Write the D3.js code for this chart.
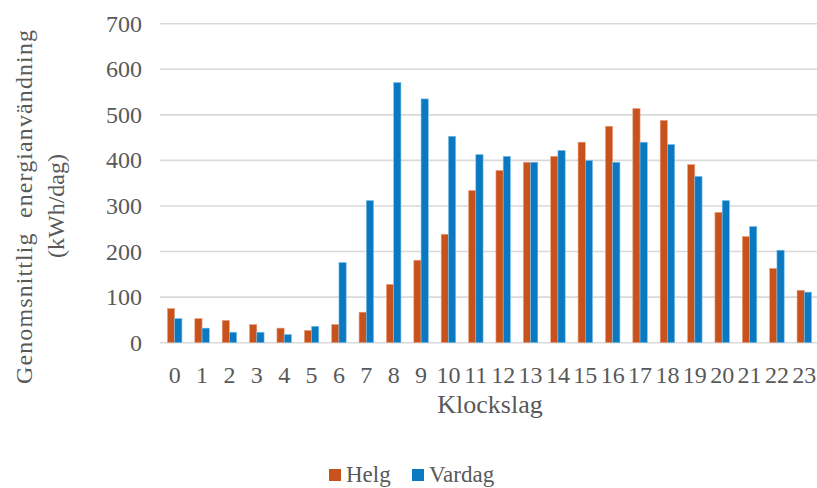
<!DOCTYPE html>
<html>
<head>
<meta charset="utf-8">
<script src="https://cdn.jsdelivr.net/npm/d3@7"></script>
<style>
  html, body { margin: 0; padding: 0; background: #fff; }
  svg { display: block; }
</style>
</head>
<body>
<svg id="chart" width="817" height="488"></svg>
<script>
// Hourly average energy use, weekend vs. weekday
const hours = ["0","1","2","3","4","5","6","7","8","9","10","11","12","13","14","15","16","17","18","19","20","21","22","23"];
const helg   = [75, 53, 49, 40, 32, 27, 40, 67, 128, 181, 238, 334, 378, 396, 409, 440, 475, 514, 488, 391, 286, 233, 163, 115];
const vardag = [53, 32, 23, 23, 18, 36, 176, 312, 571, 535, 453, 413, 409, 396, 422, 400, 396, 440, 435, 365, 312, 255, 203, 111];
const seriesNames = ["Helg", "Vardag"];
const seriesColors = ["#C8521B", "#0A79C1"];
const yTicks = [0, 100, 200, 300, 400, 500, 600, 700];

const svg = d3.select("#chart");
const textColor = "#595959";
const fontFamily = '"Liberation Serif"';

function styleText(sel, size) {
  return sel.style("font-family", fontFamily).attr("font-size", size).attr("fill", textColor);
}

const x = d3.scaleBand().domain(hours).range([161, 818]).paddingInner(0.47).paddingOuter(0.235);
const xs = d3.scaleBand().domain(seriesNames).range([0, x.bandwidth()]);
const y = d3.scaleLinear().domain([0, 700]).range([342.7, 23.7]);

// Gridlines
svg.append("g").selectAll("line").data(yTicks).join("line")
  .attr("x1", 160).attr("x2", 817)
  .attr("y1", d => y(d)).attr("y2", d => y(d))
  .attr("stroke", "#d9d9d9").attr("stroke-width", 1.6);

// Y tick labels
styleText(svg.append("g").selectAll("text").data(yTicks).join("text")
  .attr("x", 142).attr("y", d => y(d))
  .attr("text-anchor", "end").attr("dominant-baseline", "central"), 24)
  .text(d => d);

// Bars
const series = [helg, vardag];
series.forEach((vals, si) => {
  svg.append("g").selectAll("rect").data(vals).join("rect")
    .attr("x", (d, i) => x(hours[i]) + xs(seriesNames[si]))
    .attr("y", d => y(d))
    .attr("width", xs.bandwidth())
    .attr("height", d => y(0) - y(d))
    .attr("fill", seriesColors[si])
    .attr("stroke", si === 0 ? "#e9a585" : "#7fc0e8")
    .attr("stroke-width", 0.6);
});

// X tick labels
styleText(svg.append("g").selectAll("text").data(hours).join("text")
  .attr("x", d => x(d) + x.bandwidth() / 2)
  .attr("y", 383)
  .attr("text-anchor", "middle"), 24)
  .text(d => d);

// X axis title
styleText(svg.append("text")
  .attr("x", 490).attr("y", 413)
  .attr("text-anchor", "middle"), 26)
  .text("Klockslag");

// Y axis title (two lines)
styleText(svg.append("text")
  .attr("transform", "translate(32,207) rotate(-90)")
  .attr("text-anchor", "middle")
  .attr("textLength", 354).attr("lengthAdjust", "spacing")
  .attr("xml:space", "preserve"), 24)
  .text("Genomsnittlig  energianvändning");
styleText(svg.append("text")
  .attr("transform", "translate(64,206) rotate(-90)")
  .attr("text-anchor", "middle"), 24)
  .text("(kWh/dag)");

// Legend
const legendX = [329, 412];
const legend = svg.append("g");
seriesNames.forEach((name, i) => {
  legend.append("rect")
    .attr("x", legendX[i]).attr("y", 469)
    .attr("width", 12).attr("height", 12)
    .attr("fill", seriesColors[i]);
  styleText(legend.append("text")
    .attr("x", legendX[i] + 17).attr("y", 482), 23)
    .text(name);
});
</script>
</body>
</html>
